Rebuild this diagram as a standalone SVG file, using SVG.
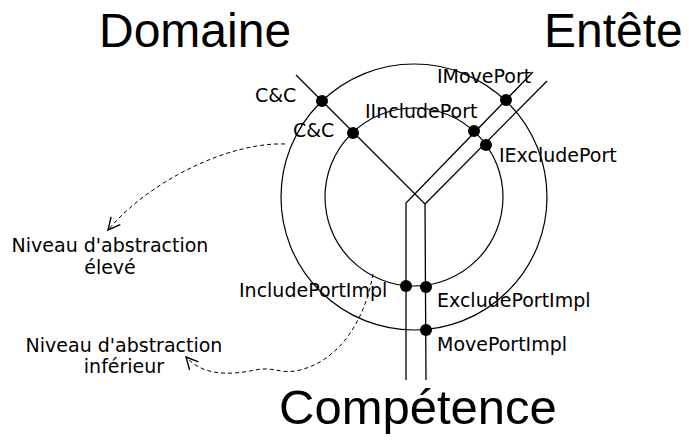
<svg xmlns="http://www.w3.org/2000/svg" width="689" height="440" viewBox="0 0 689 440">
<defs>
<style>
.big{font-family:"Liberation Sans",Arial,sans-serif;font-size:48px;fill:#000}
.lbl{font-family:"DejaVu Sans",sans-serif;font-size:19px;fill:#000}
.ln{stroke:#000;stroke-width:1.3;fill:none}
.circ{stroke:#000;stroke-width:1.2;fill:none}
.dash{stroke:#000;stroke-width:1;fill:none;stroke-dasharray:4,3}
.dot{fill:#000}
</style>
<marker id="open" markerUnits="userSpaceOnUse" markerWidth="16" markerHeight="16" refX="13" refY="7" orient="auto" viewBox="0 0 16 14">
<path d="M1,1 L13,7 L1,13" fill="none" stroke="#000" stroke-width="1.4" stroke-dasharray="none"/>
</marker>
</defs>
<rect width="689" height="440" fill="#fff"/>
<g id="titles">
<text class="big" x="99" y="47">Domaine</text>
<text class="big" x="544" y="47">Entête</text>
<text class="big" x="279" y="424" style="font-size:49px">Compétence</text>
</g>
<g id="rings">
<circle class="circ" cx="414" cy="197" r="133"/>
<circle class="circ" cx="414" cy="197" r="89"/>
</g>
<g id="connectors">
<path class="ln" d="M296,75 L425,204 L426,380"/>
<path class="ln" d="M533,72 L406,203 L406,380"/>
<path class="ln" d="M547,81 L425,204"/>
<path class="dash" d="M285,144 C230,142 150,180 108,230" marker-end="url(#open)"/>
<path class="dash" d="M373,274 C365,320 340,360 300,370 C280,375 275,366 255,370 C235,374 205,378 186,357" marker-end="url(#open)"/>
</g>
<g id="ports">
<circle class="dot" cx="322" cy="101" r="6"/>
<circle class="dot" cx="353" cy="133" r="6"/>
<circle class="dot" cx="506" cy="100" r="6"/>
<circle class="dot" cx="474" cy="131" r="6"/>
<circle class="dot" cx="486" cy="145" r="6"/>
<circle class="dot" cx="406" cy="286" r="6"/>
<circle class="dot" cx="426" cy="287" r="6"/>
<circle class="dot" cx="426" cy="330" r="6"/>
</g>
<g id="labels">
<text class="lbl" x="255" y="102">C&amp;C</text>
<text class="lbl" x="293" y="137">C&amp;C</text>
<text class="lbl" x="365" y="118">IIncludePort</text>
<text class="lbl" x="437" y="83">IMovePort</text>
<text class="lbl" x="499" y="162">IExcludePort</text>
<text class="lbl" x="239" y="297">IncludePortImpl</text>
<text class="lbl" x="437" y="307">ExcludePortImpl</text>
<text class="lbl" x="437" y="351">MovePortImpl</text>
</g>
<g id="notes">
<text class="lbl" text-anchor="middle" x="110" y="252">Niveau d'abstraction</text>
<text class="lbl" text-anchor="middle" x="110" y="274">élevé</text>
<text class="lbl" text-anchor="middle" x="124" y="352">Niveau d'abstraction</text>
<text class="lbl" text-anchor="middle" x="124" y="373">inférieur</text>
</g>
</svg>
